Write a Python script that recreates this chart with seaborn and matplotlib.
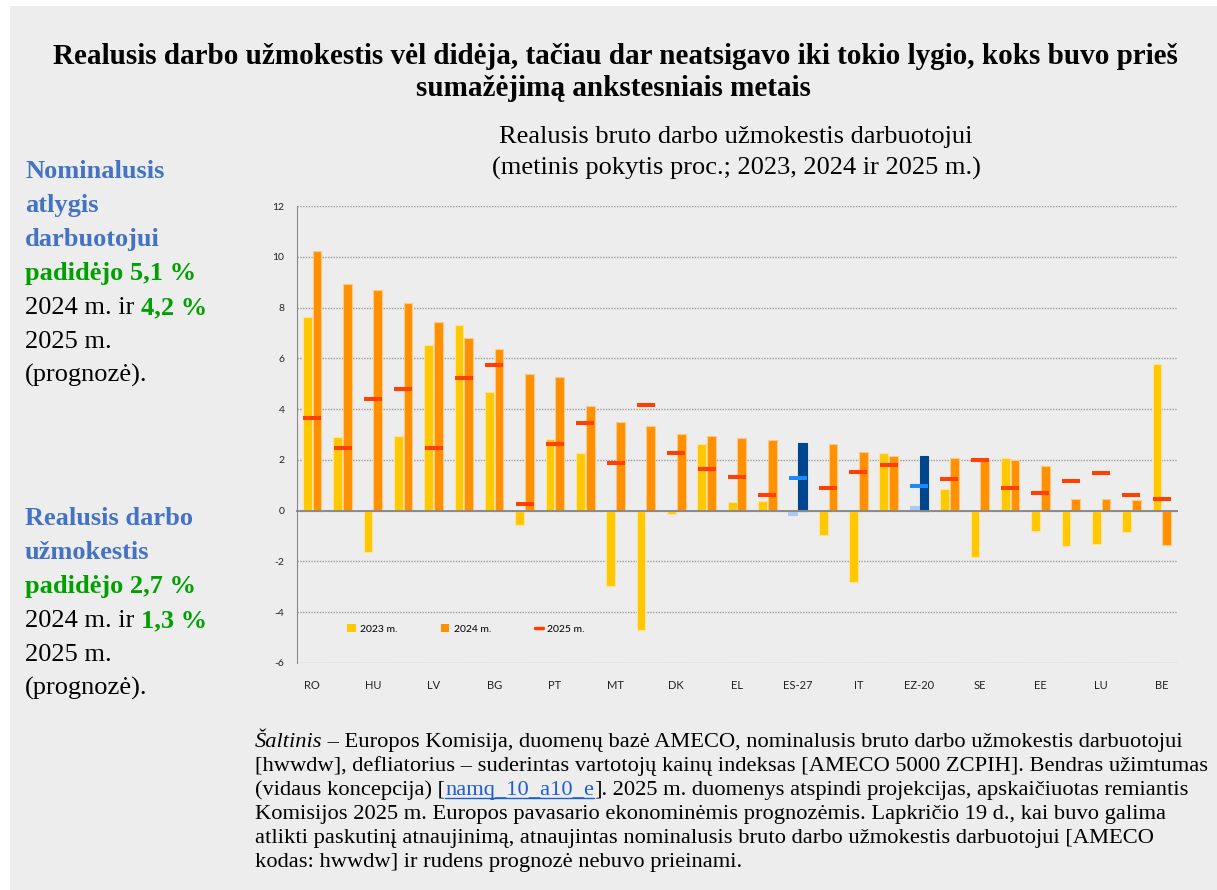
import numpy as np
import pandas as pd
import matplotlib
matplotlib.use('Agg')
import matplotlib.pyplot as plt
import seaborn as sns
from matplotlib.patches import Patch, Rectangle
from matplotlib.lines import Line2D

# categories (only every other one is labelled in the chart)
cats = ['RO', 'HR', 'HU', 'PL', 'LV', 'LT', 'BG', 'CZ', 'PT', 'SI', 'MT', 'SK',
        'DK', 'NL', 'EL', 'AT', 'ES-27', 'CY', 'IT', 'IE', 'EZ-20', 'FR', 'SE',
        'ES', 'EE', 'DE', 'LU', 'FI', 'BE']
aggregates = ['ES-27', 'EZ-20']

v2023 = [7.63, 2.89, -1.63, 2.94, 6.52, 7.33, 4.67, -0.55, 2.83, 2.26, -2.98, -4.71,
         -0.12, 2.61, 0.33, 0.38, -0.16, -0.96, -2.82, 2.27, 0.18, 0.85, -1.81,
         2.07, -0.81, -1.38, -1.32, -0.83, 5.77]
v2024 = [10.22, 8.94, 8.68, 8.17, 7.44, 6.79, 6.35, 5.38, 5.27, 4.13, 3.50, 3.34,
         3.02, 2.94, 2.87, 2.78, 2.66, 2.61, 2.31, 2.15, 2.15, 2.07, 1.99,
         1.99, 1.76, 0.47, 0.45, 0.43, -1.36]
v2025 = [3.65, 2.48, 4.41, 4.80, 2.48, 5.23, 5.74, 0.28, 2.64, 3.46, 1.89, 4.17,
         2.28, 1.65, 1.34, 0.63, 1.30, 0.90, 1.53, 1.81, 0.98, 1.26, 2.01,
         0.90, 0.71, 1.18, 1.50, 0.63, 0.47]
years = ['2023 m.', '2024 m.', '2025 m.']

YELLOW = '#FFC800'
ORANGE = '#FF9000'
RED = '#FF4000'
LBLUE = '#A8CBF5'
DBLUE = '#00468F'
MBLUE = '#1E88FF'
BG = '#EDEDED'
TXTBLUE = '#4472C4'
GREEN = '#00A000'
LINK = '#1F5FD0'

df = pd.DataFrame({'cat': cats * 2,
                   'year': [years[0]] * len(cats) + [years[1]] * len(cats),
                   'value': v2023 + v2024})

sns.set_style('white')
plt.rcParams['font.family'] = ['Lato', 'DejaVu Sans']
plt.rcParams['text.color'] = 'black'
plt.rcParams['axes.unicode_minus'] = False

W, H = 1217, 890
fig = plt.figure(figsize=(W / 100, H / 100), dpi=100, facecolor='white')
fig.patches.append(Rectangle((10 / W, 0), 1, 1 - 6 / H, transform=fig.transFigure,
                             facecolor=BG, edgecolor='none', zorder=-10))

ax = fig.add_axes([297 / W, 1 - 663 / H, 880 / W, 457 / H])
ax.set_facecolor(BG)

sns.barplot(data=df, x='cat', y='value', hue='year', order=cats,
            hue_order=years[:2], palette=[YELLOW, ORANGE], saturation=1,
            width=0.64, gap=0.1, linewidth=0.8, ax=ax, legend=False, zorder=3)
for c_i, cont in enumerate(ax.containers):
    for i, bar in enumerate(cont):
        if cats[i] in aggregates:
            bar.set_facecolor(LBLUE if c_i == 0 else DBLUE)
            bar.set_edgecolor(LBLUE if c_i == 0 else DBLUE)
        else:
            bar.set_edgecolor('#FFE39A' if c_i == 0 else '#FFC98A')

line_pal = {c: (MBLUE if c in aggregates else RED) for c in cats}
sns.pointplot(x=cats, y=v2025, hue=cats, palette=line_pal, order=cats,
              linestyle='none', marker='_', markersize=13.2, markeredgewidth=2.9,
              errorbar=None, legend=False, ax=ax, zorder=5)

ax.set_xlim(-0.5, len(cats) - 0.5)
ax.set_ylim(-6, 12)
ax.set_yticks(np.arange(-6, 13, 2))
ax.set_xlabel('')
ax.set_ylabel('')
ax.grid(axis='y', color='#9A9A9A', linestyle=(0, (1, 1)), linewidth=1.0, zorder=0)
ax.set_axisbelow(True)
for s in ['top', 'right']:
    ax.spines[s].set_visible(False)
ax.spines['left'].set_color('#8A8A8A')
ax.spines['bottom'].set_position(('data', 0))
ax.spines['bottom'].set_color('#8A8A8A')
ax.spines['bottom'].set_linewidth(1.4)
ax.spines['bottom'].set_zorder(4)
ax.set_xticks(np.arange(len(cats) + 1) - 0.5, labels=[])
ax.tick_params(axis='x', direction='out', length=4, width=1, color='#8A8A8A')
ax.tick_params(axis='y', direction='out', length=3, width=1, color='#8A8A8A',
               labelsize=7.5, pad=6, labelcolor='#222222')

sec = ax.secondary_xaxis('bottom')
sec.set_xticks(np.arange(len(cats)),
               labels=[c if i % 2 == 0 else '' for i, c in enumerate(cats)])
sec.tick_params(length=0, pad=12, labelsize=8, labelcolor='#222222')
sec.spines['bottom'].set_visible(False)

handles = [Patch(facecolor=YELLOW, edgecolor='none'),
           Patch(facecolor=ORANGE, edgecolor='none'),
           Line2D([], [], color=RED, lw=2.5)]
ax.legend(handles, years, ncol=3, loc='center', bbox_to_anchor=(0.192, 0.074),
          frameon=False, fontsize=7.5, handlelength=0.8, handleheight=0.8,
          handletextpad=0.4, columnspacing=4.2)

serif = 'Liberation Serif'
fig.text(615 / W, 1 - 57 / H,
         'Realusis darbo užmokestis vėl didėja, tačiau dar neatsigavo iki tokio lygio, koks buvo prieš',
         ha='center', va='center', family=serif, weight='bold', fontsize=21)
fig.text(613 / W, 1 - 89 / H, 'sumažėjimą ankstesniais metais',
         ha='center', va='center', family=serif, weight='bold', fontsize=21)
fig.text(736 / W, 1 - 137 / H, 'Realusis bruto darbo užmokestis darbuotojui',
         ha='center', va='center', family=serif, fontsize=19)
fig.text(736 / W, 1 - 168 / H, '(metinis pokytis proc.; 2023, 2024 ir 2025 m.)',
         ha='center', va='center', family=serif, fontsize=19)

renderer = fig.canvas.get_renderer()


def segments(x_px, y_px, parts, size):
    x = x_px / W
    for txt, kw in parts:
        kw = dict(kw)
        underline = kw.pop('underline', False)
        t = fig.text(x, 1 - y_px / H, txt, va='baseline', family=serif,
                     fontsize=size, **kw)
        bb = t.get_window_extent(renderer)
        if underline:
            yu = 1 - (y_px + 3) / H
            fig.add_artist(Line2D([x, x + bb.width / W], [yu, yu],
                                  transform=fig.transFigure,
                                  color=kw.get('color', 'black'), lw=1))
        x += bb.width / W


bold_blue = dict(weight='bold', color=TXTBLUE)
bold_green = dict(weight='bold', color=GREEN)
plain = dict(color='black')

side_blocks = [
    (178, [[('Nominalusis', bold_blue)],
           [('atlygis', bold_blue)],
           [('darbuotojui', bold_blue)],
           [('padidėjo 5,1 %', bold_green)],
           [('2024 m. ir ', plain), ('4,2 %', bold_green)],
           [('2025 m.', plain)],
           [('(prognozė).', plain)]]),
    (525, [[('Realusis darbo', bold_blue)],
           [('užmokestis', bold_blue)],
           [('padidėjo 2,7 %', bold_green)],
           [('2024 m. ir ', plain), ('1,3 %', bold_green)],
           [('2025 m.', plain)],
           [('(prognozė).', plain)]]),
]
for y0, lines in side_blocks:
    for k, parts in enumerate(lines):
        segments(25, y0 + 34 * k, parts, 19)

link = dict(color=LINK, underline=True)
source_lines = [
    [('Šaltinis', dict(style='italic')),
     (' – Europos Komisija, duomenų bazė AMECO, nominalusis bruto darbo užmokestis darbuotojui', {})],
    [('[hwwdw], defliatorius – suderintas vartotojų kainų indeksas [AMECO 5000 ZCPIH]. Bendras užimtumas', {})],
    [('(vidaus koncepcija) [', {}), ('namq_10_a10_e', link),
     ('].', {}), (' 2025 m. duomenys atspindi projekcijas, apskaičiuotas remiantis', {})],
    [('Komisijos 2025 m. Europos pavasario ekonominėmis prognozėmis. Lapkričio 19 d., kai buvo galima', {})],
    [('atlikti paskutinį atnaujinimą, atnaujintas nominalusis bruto darbo užmokestis darbuotojui [AMECO', {})],
    [('kodas: hwwdw] ir rudens prognozė nebuvo prieinami.', {})],
]
for k, parts in enumerate(source_lines):
    segments(255, 747 + 24 * k, parts, 16.2)

fig.savefig('out.png', dpi=100, facecolor='white')
